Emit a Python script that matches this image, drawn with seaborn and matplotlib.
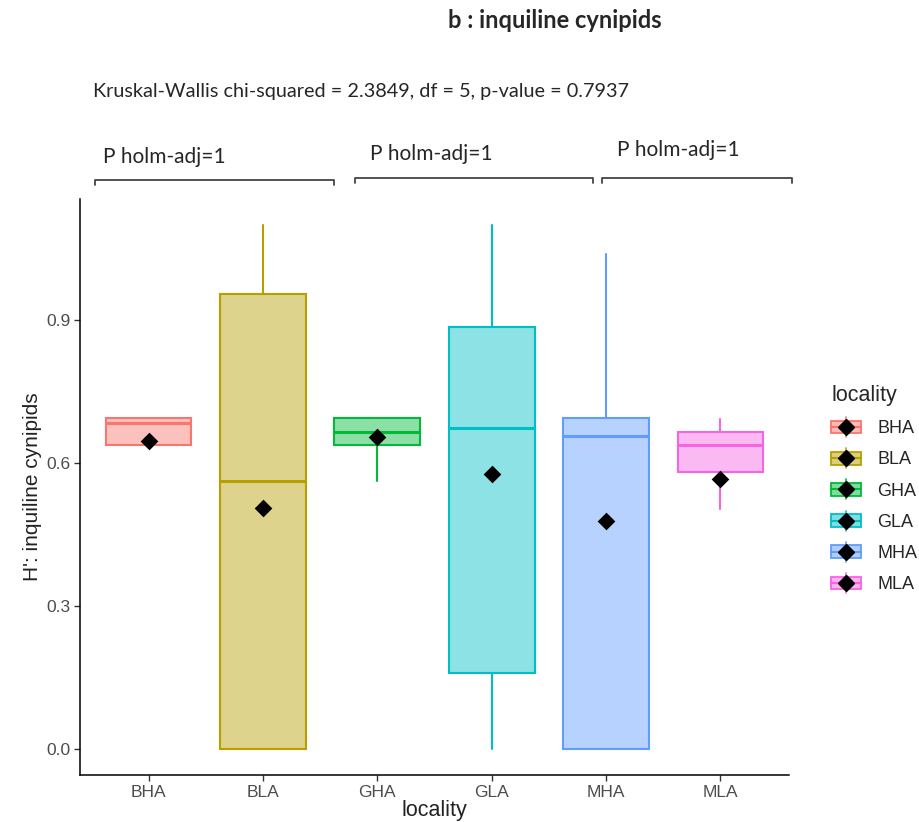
"""Boxplot of H' diversity (inquiline cynipids) per locality, ggplot-like styling."""

import matplotlib.pyplot as plt
import numpy as np
import seaborn as sns
from matplotlib import patches
from matplotlib.colors import to_rgba
from matplotlib.legend_handler import HandlerBase
from matplotlib.lines import Line2D

LOCALITIES = ["BHA", "BLA", "GHA", "GLA", "MHA", "MLA"]
COLORS = ["#F8766D", "#B79F00", "#00BA38", "#00BFC4", "#619CFF", "#F564E3"]

# box statistics
Q1 = [0.637, 0.0, 0.637, 0.159, 0.0, 0.581]
MEDIAN = [0.683, 0.562, 0.665, 0.672, 0.655, 0.637]
Q3 = [0.693, 0.953, 0.693, 0.885, 0.693, 0.664]
WHISK_LO = [0.637, 0.0, 0.562, 0.0, 0.0, 0.502]
WHISK_HI = [0.693, 1.098, 0.693, 1.098, 1.038, 0.691]
MEAN = [0.645, 0.505, 0.653, 0.577, 0.478, 0.565]

Y_TICKS = [0.0, 0.3, 0.6, 0.9]
PAIR_LABEL = "P holm-adj=1"
KW_LABEL = "Kruskal-Wallis chi-squared = 2.3849, df = 5, p-value = 0.7937"

W, H = 920, 822


class BoxKeyHandler(HandlerBase):
    """Legend key drawn like a ggplot boxplot key with a mean diamond."""

    def create_artists(self, legend, orig_handle, xdescent, ydescent,
                       width, height, fontsize, trans):
        color = orig_handle.get_edgecolor()
        x0, y0 = -xdescent, -ydescent
        cx, cy = x0 + width / 2, y0 + height / 2
        whisker = Line2D([cx, cx], [y0 - 0.1 * height, y0 + 1.1 * height],
                         color=color, lw=1.2, transform=trans)
        rect = patches.Rectangle((x0, y0 + 0.12 * height), width, 0.76 * height,
                                 facecolor=to_rgba(color, 0.5), edgecolor=color,
                                 lw=1.3, transform=trans)
        median = Line2D([x0, x0 + width], [cy, cy], color=color, lw=1.5,
                        transform=trans)
        diamond = Line2D([cx], [cy], marker="D", color="black", markersize=8,
                         linestyle="none", transform=trans)
        return [whisker, rect, median, diamond]


def fx(px):
    return px / W


def fy(py):
    return 1 - py / H


sns.set_style("white")
plt.rcParams["font.family"] = ["Liberation Sans", "DejaVu Sans"]

fig = plt.figure(figsize=(W / 100, H / 100), dpi=100)
ax = fig.add_axes([fx(80), fy(775), fx(789) - fx(80), fy(199) - fy(775)])

stats = [
    dict(label=loc, q1=q1, med=med, q3=q3, whislo=lo, whishi=hi, fliers=[])
    for loc, q1, med, q3, lo, hi in zip(LOCALITIES, Q1, MEDIAN, Q3, WHISK_LO, WHISK_HI)
]
art = ax.bxp(stats, positions=np.arange(len(LOCALITIES)), widths=0.75,
             patch_artist=True, showcaps=False, showfliers=False,
             manage_ticks=False)
for i, color in enumerate(COLORS):
    box = art["boxes"][i]
    box.set_facecolor(to_rgba(color, 0.45))
    box.set_edgecolor(color)
    box.set_linewidth(1.5)
    art["medians"][i].set_color(color)
    art["medians"][i].set_linewidth(2.2)
    for wl in art["whiskers"][2 * i:2 * i + 2]:
        wl.set_color(color)
        wl.set_linewidth(1.5)

sns.stripplot(x=LOCALITIES, y=MEAN, order=LOCALITIES, jitter=False,
              marker="D", color="black", size=9, linewidth=0, ax=ax, zorder=5)

ax.set_xlim(-0.6, 5.6)
ax.set_ylim(-0.055, 1.153)
ax.set_yticks(Y_TICKS)
ax.set_yticklabels([f"{v:.1f}" for v in Y_TICKS])
ax.set_xticks(np.arange(len(LOCALITIES)))
ax.set_xticklabels(LOCALITIES)
ax.tick_params(axis="both", which="both", length=4, width=1, color="#333333",
               labelsize=12.5, labelcolor="#4D4D4D", pad=3,
               left=True, bottom=True)
for side in ["top", "right"]:
    ax.spines[side].set_visible(False)
for side in ["left", "bottom"]:
    ax.spines[side].set_color("black")
    ax.spines[side].set_linewidth(1.1)
ax.set_xlabel("locality", fontsize=15.5, color="#222222", labelpad=0)
ax.set_ylabel("H': inquiline cynipids", fontsize=15, color="#222222", labelpad=3)

# legend
handles = [patches.Patch(facecolor=to_rgba(c, 0.45), edgecolor=c) for c in COLORS]
leg = fig.legend(handles, LOCALITIES, handler_map={patches.Patch: BoxKeyHandler()},
                 title="locality", loc="upper left",
                 bbox_to_anchor=(fx(822), fy(376)), bbox_transform=fig.transFigure,
                 frameon=False, fontsize=13, title_fontsize=15.5,
                 handlelength=1.65, handleheight=1.05, labelspacing=0.7,
                 handletextpad=0.9, borderpad=0, alignment="left")

# annotations (title, test result, pairwise brackets)
annot_font = ["Lato", "DejaVu Sans"]
fig.text(fx(555), fy(20), "b : inquiline cynipids", ha="center", va="center",
         fontsize=17, fontweight="bold", family=annot_font)
fig.text(fx(93), fy(92), KW_LABEL, ha="left", va="center",
         fontsize=14.3, family=annot_font)
for x_txt, y_txt, x0, x1, yb in [(103, 157, 95, 334, 180),
                                 (370, 154, 355, 593, 178),
                                 (617, 150, 602, 792, 178)]:
    fig.text(fx(x_txt), fy(y_txt), PAIR_LABEL, ha="left", va="center",
             fontsize=15, family=annot_font)
    fig.add_artist(Line2D([fx(x0), fx(x0), fx(x1), fx(x1)],
                          [fy(yb + 5), fy(yb), fy(yb), fy(yb + 5)],
                          color="#444444", lw=1.3, transform=fig.transFigure))

fig.savefig("out.png", dpi=100)
